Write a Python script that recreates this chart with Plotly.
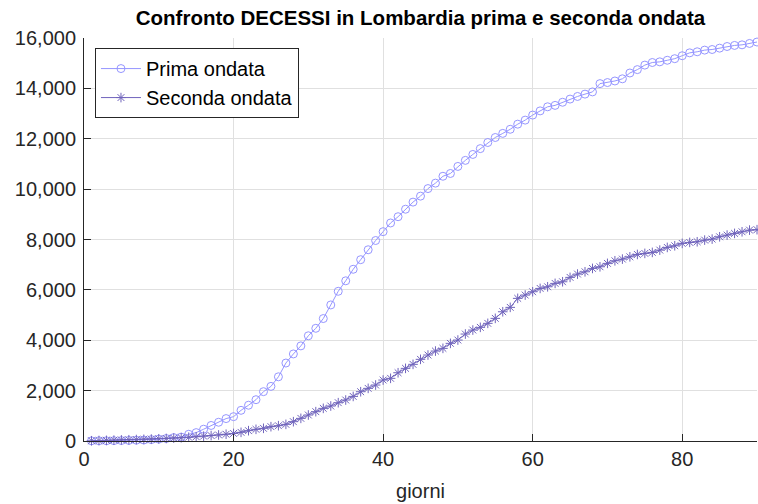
import plotly.graph_objects as go

# Day index of each wave (giorni)
giorni = list(range(1, 91))

# Cumulative deaths in Lombardy, first wave
prima_ondata = [
    6, 9, 9, 14, 17, 23, 31, 38, 55, 73,
    98, 135, 154, 267, 333, 468, 617, 744, 890, 966,
    1218, 1420, 1640, 1959, 2168, 2549, 3095, 3456, 3776, 4178,
    4474, 4861, 5402, 5944, 6360, 6818, 7199, 7593, 7960, 8311,
    8656, 8905, 9202, 9484, 9722, 10022, 10238, 10511, 10621, 10901,
    11142, 11377, 11608, 11851, 12050, 12213, 12376, 12579, 12740, 12940,
    13106, 13269, 13325, 13449, 13575, 13679, 13772, 13860, 14189, 14231,
    14294, 14380, 14611, 14745, 14924, 15027, 15054, 15116, 15179, 15296,
    15411, 15453, 15519, 15543, 15597, 15662, 15705, 15729, 15784, 15840,
]

# Cumulative deaths in Lombardy, second wave
seconda_ondata = [
    10, 18, 25, 33, 42, 50, 58, 66, 76, 88,
    100, 115, 130, 150, 170, 192, 215, 240, 268, 300,
    344, 410, 463, 503, 569, 608, 661, 767, 899, 1032,
    1164, 1296, 1389, 1521, 1627, 1770, 1956, 2090, 2222, 2420,
    2488, 2710, 2884, 3043, 3242, 3413, 3571, 3678, 3877, 4008,
    4246, 4405, 4512, 4671, 4869, 5131, 5306, 5663, 5794, 5925,
    6058, 6123, 6258, 6322, 6496, 6627, 6718, 6852, 6917, 7052,
    7155, 7222, 7313, 7407, 7448, 7488, 7579, 7686, 7751, 7845,
    7885, 7910, 7976, 8016, 8108, 8175, 8242, 8306, 8373, 8390,
]

x_ticks = [0, 20, 40, 60, 80]
y_ticks = [0, 2000, 4000, 6000, 8000, 10000, 12000, 14000, 16000]

COL_PRIMA = "rgb(150,150,255)"
COL_SECONDA = "rgb(112,100,188)"
AX_COL = "#262626"
GRID_COL = "rgb(224,224,224)"
FONT = "Liberation Sans, Arial, Helvetica, sans-serif"

fig = go.Figure()

fig.add_trace(go.Scatter(
    x=giorni, y=prima_ondata, name="Prima ondata",
    mode="lines+markers", cliponaxis=False,
    line=dict(color=COL_PRIMA, width=1),
    marker=dict(symbol="circle-open", size=8, color=COL_PRIMA,
                line=dict(color=COL_PRIMA, width=1)),
))

fig.add_trace(go.Scatter(
    x=giorni, y=seconda_ondata, name="Seconda ondata",
    mode="lines+markers", cliponaxis=False,
    line=dict(color=COL_SECONDA, width=1),
    marker=dict(symbol="asterisk-open", size=8, color=COL_SECONDA,
                line=dict(color=COL_SECONDA, width=1)),
))

fig.update_layout(
    width=758, height=504,
    margin=dict(l=84, r=1, t=38, b=63),
    paper_bgcolor="white", plot_bgcolor="white",
    font=dict(family=FONT, size=20, color=AX_COL),
    title=dict(
        text="<b>Confronto DECESSI in Lombardia prima e seconda ondata</b>",
        font=dict(family=FONT, size=20.5, color="black"),
        x=(84 + 757) / 2 / 758, xanchor="center",
        y=1 - 18 / 504, yanchor="middle",
    ),
    legend=dict(
        x=0.0163, y=0.975, xanchor="left", yanchor="top",
        bgcolor="white", bordercolor=AX_COL, borderwidth=1,
        font=dict(family=FONT, size=20, color="black"),
        tracegroupgap=0, itemwidth=40,
    ),
    showlegend=True,
)

fig.update_xaxes(
    range=[0, 90], tickvals=x_ticks, ticks="inside", ticklen=7,
    tickcolor=AX_COL, showline=True, linecolor=AX_COL, linewidth=1,
    showgrid=True, gridcolor=GRID_COL, gridwidth=1, zeroline=False,
    title=dict(text="giorni", font=dict(family=FONT, size=20, color=AX_COL),
               standoff=14),
    tickfont=dict(family=FONT, size=20, color=AX_COL),
)

fig.update_yaxes(
    range=[0, 16000], tickvals=y_ticks, tickformat=",d", ticks="inside",
    ticklen=7, tickcolor=AX_COL, showline=True, linecolor=AX_COL, linewidth=1,
    showgrid=True, gridcolor=GRID_COL, gridwidth=1, zeroline=False,
    ticklabelstandoff=3,
    tickfont=dict(family=FONT, size=20, color=AX_COL),
)

fig.write_html("out.html")
